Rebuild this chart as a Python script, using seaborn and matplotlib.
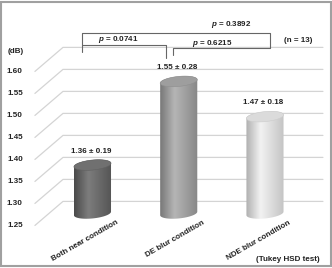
import numpy as np
import pandas as pd
import seaborn as sns
import matplotlib.pyplot as plt
from matplotlib.patches import Polygon, Rectangle

sns.set_style("white")
plt.rcParams['font.family'] = ['Liberation Sans', 'DejaVu Sans']
plt.rcParams['mathtext.fontset'] = 'custom'
plt.rcParams['mathtext.it'] = 'Liberation Sans:italic:bold'
plt.rcParams['mathtext.rm'] = 'Liberation Sans:bold'

# data
conditions = ["Both near condition", "DE blur condition", "NDE blur condition"]
means = [1.36, 1.55, 1.47]
sds = [0.19, 0.28, 0.18]
yticks = [1.25, 1.30, 1.35, 1.40, 1.45, 1.50, 1.55, 1.60]
p_values = {"0-1": 0.0741, "1-2": 0.6215, "0-2": 0.3892}
n_subjects = 13

# shading per bar: (left edge, highlight, right edge, top)
shades = [(0.29, 0.49, 0.33, 0.44),
          (0.47, 0.71, 0.53, 0.62),
          (0.69, 0.95, 0.77, 0.86)]

base = 1.25
depth = 0.0273     # half depth of the wall, in value units
ell_b = 0.0114     # ellipse half height
tilt = 0.004
fs = 5.8
txt = dict(fontsize=fs, fontweight="bold", color="#222222")

df = pd.DataFrame({"condition": conditions, "value": means})

fig = plt.figure(figsize=(3.32, 2.68), dpi=100)
ax = fig.add_axes([0, 0, 1, 1])

sns.barplot(data=df, x="condition", y="value", width=0.43, errorbar=None,
            color="white", ax=ax)

# grid "wall"
x_front, x_back, x_end = -0.667, -0.342, 2.672
for v in yticks:
    ax.plot([x_front, x_back, x_end], [v - depth, v + depth, v + depth],
            color="#d4d4d4", lw=0.9, zorder=1)
    ax.text(x_front - 0.14, v - depth, f"{v:.2f}", ha="right", va="center", **txt)
ax.text(-0.893, 1.617, "(dB)", ha="center", va="center", **txt)

t = np.linspace(0, 2 * np.pi, 200)
for i, patch in enumerate(ax.patches):
    patch.set_visible(False)
    x0 = patch.get_x()
    w = patch.get_width()
    top = patch.get_height()
    cx = x0 + w / 2
    a = w / 2
    left, hi, right, topc = shades[i]

    # body outline: lower half of bottom ellipse + upper half of top ellipse
    tb = np.linspace(np.pi, 2 * np.pi, 100)
    tt = np.linspace(0, np.pi, 100)
    bx = cx + a * np.cos(tb)
    by = base + ell_b * np.sin(tb) + tilt * np.cos(tb)
    tx = cx + a * np.cos(tt)
    ty = top + ell_b * np.sin(tt) + tilt * np.cos(tt)
    body = Polygon(np.column_stack([np.r_[bx, tx], np.r_[by, ty]]),
                   closed=True, facecolor="none", edgecolor="none")
    ax.add_patch(body)

    u = np.linspace(0, 1, 64)
    g = np.interp(u, [0, 0.38, 1], [left, hi, right])
    img = np.repeat(np.stack([g, g, g], axis=1)[None, :, :], 2, axis=0)
    im = ax.imshow(img, extent=[cx - a, cx + a, base - 2 * ell_b, top + 2 * ell_b],
                   aspect="auto", interpolation="bicubic", zorder=3)
    im.set_clip_path(body)

    ex = cx + a * np.cos(t)
    ey = top + ell_b * np.sin(t) + tilt * np.cos(t)
    ax.add_patch(Polygon(np.column_stack([ex, ey]), closed=True,
                         facecolor=(topc, topc, topc),
                         edgecolor=(topc - 0.06,) * 3, lw=0.4, zorder=4))

    ax.text(cx - 0.02, top + 0.031, f"{top:.2f} \u00b1 {sds[i]:.2f}",
            ha="center", va="center", **txt)
    ax.text(cx + 0.27, 1.2373, conditions[i], rotation=30, rotation_mode="anchor",
            ha="right", va="top", **txt)

# significance brackets
bk = dict(color="#666666", lw=0.8, zorder=2)
ax.plot([-0.125, -0.125, 2.058, 2.058], [1.617, 1.659, 1.659, 1.627], **bk)
ax.plot([-0.125, 0.849, 0.849], [1.633, 1.633, 1.6025], **bk)
ax.plot([0.93, 0.93, 2.058], [1.61, 1.6266, 1.6266], **bk)

ax.text(1.606, 1.680, f"$p$ = {p_values['0-2']:.4f}", ha="center", va="center", **txt)
ax.text(0.296, 1.646, f"$p$ = {p_values['0-1']:.4f}", ha="center", va="center", **txt)
ax.text(1.386, 1.6366, f"$p$ = {p_values['1-2']:.4f}", ha="center", va="center", **txt)
ax.text(2.383, 1.642, f"(n = {n_subjects})", ha="center", va="center", **txt)
ax.text(2.261, 1.146, "(Tukey HSD test)", ha="center", va="center", **txt)

ax.set_xlim(-1.072, 2.777)
ax.set_ylim(1.126, 1.735)
ax.axis("off")

fig.patches.append(Rectangle((0.004, 0.006), 0.992, 0.988, transform=fig.transFigure,
                             fill=False, edgecolor="#a0a0a0", lw=1.5))

fig.savefig("out.png", dpi=100)
